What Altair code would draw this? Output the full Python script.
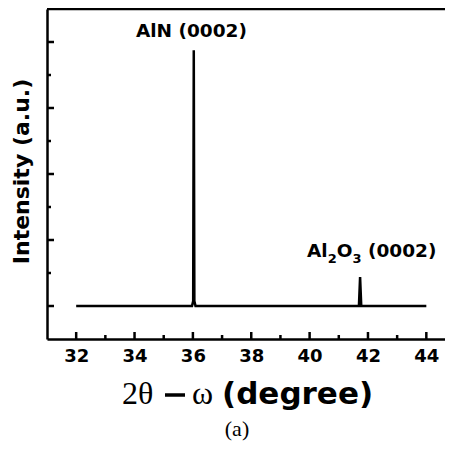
import altair as alt
import pandas as pd

# XRD scan (2theta-omega)
two_theta = [32.0, 35.97, 36.01, 36.03, 36.05, 36.09, 41.69, 41.73, 41.77, 44.0]
intensity = [0.0, 0.0, 0.15, 7.75, 0.15, 0.0, 0.0, 0.88, 0.0, 0.0]

x_major = [32, 34, 36, 38, 40, 42, 44]
x_minor = [33, 35, 37, 39, 41, 43]
y_major = [0, 2, 4, 6, 8]
y_minor = [1, 3, 5, 7]

aln_label = ["AlN (0002)"]
aln_pos = [35.95, 8.15]
sap_anchor = [39.91, 1.48]

W, H = 398, 330
SANS = "DejaVu Sans"
SERIF = "Liberation Serif"

xs = alt.Scale(domain=[31, 44.64], nice=False, zero=False)
ys = alt.Scale(domain=[-1, 9], nice=False, zero=False)

xaxis = alt.Axis(
    values=x_major, format="d", ticks=False, tickSize=0, grid=False,
    labelFont=SANS, labelFontWeight="bold", labelFontSize=18, labelColor="black",
    labelPadding=8, domainColor="black", domainWidth=2.5, title=None)
yaxis = alt.Axis(
    labels=False, ticks=False, tickSize=0, grid=False, domainColor="black", domainWidth=2.5,
    title="Intensity (a.u.)", titleFont=SANS, titleFontWeight="bold", titleFontSize=22,
    titleColor="black", titleX=-14, titleY=162)

df = pd.DataFrame({"t": two_theta, "i": intensity})
one = pd.DataFrame({"a": [0]})

line = alt.Chart(df).mark_line(color="black", strokeWidth=2.5, clip=True).encode(
    x=alt.X("t:Q", scale=xs, axis=xaxis),
    y=alt.Y("i:Q", scale=ys, axis=yaxis),
)

def xticks(vals, length):
    return alt.Chart(pd.DataFrame({"v": vals})).mark_rule(color="black", strokeWidth=2.5).encode(
        x=alt.X("v:Q", scale=xs, axis=xaxis), y=alt.value(H), y2=alt.value(H - length))

def yticks(vals, length):
    return alt.Chart(pd.DataFrame({"v": vals})).mark_rule(color="black", strokeWidth=2.5).encode(
        y=alt.Y("v:Q", scale=ys, axis=yaxis), x=alt.value(0), x2=alt.value(length))

top_border = alt.Chart(one).mark_rule(color="black", strokeWidth=2.5).encode(
    x=alt.value(0), x2=alt.value(W), y=alt.value(0))

aln = alt.Chart(pd.DataFrame({"x": [aln_pos[0]], "y": [aln_pos[1]], "s": aln_label})).mark_text(
    font=SANS, fontWeight="bold", fontSize=18.5, align="center", baseline="alphabetic", color="black"
).encode(x=alt.X("x:Q", scale=xs, axis=xaxis), y=alt.Y("y:Q", scale=ys, axis=yaxis), text="s:N")

sap_df = pd.DataFrame({"x": [sap_anchor[0]], "y": [sap_anchor[1]]})
def sap_piece(txt, dx, dy, size):
    return alt.Chart(sap_df).mark_text(
        font=SANS, fontWeight="bold", fontSize=size, align="left", baseline="alphabetic",
        color="black", dx=dx, dy=dy
    ).encode(x=alt.X("x:Q", scale=xs, axis=xaxis), y=alt.Y("y:Q", scale=ys, axis=yaxis),
             text=alt.value(txt))

sap = [
    sap_piece("Al", 0, 0, 18.5),
    sap_piece("2", 20.7, 6, 13),
    sap_piece("O", 29.7, 0, 18.5),
    sap_piece("3", 45.4, 6, 13),
    sap_piece("(0002)", 61, 0, 18.5),
]

def free_text(txt, x, y, font, size, weight="normal", align="left"):
    return alt.Chart(one).mark_text(
        font=font, fontSize=size, fontWeight=weight, align=align, baseline="alphabetic", color="black"
    ).encode(x=alt.value(x), y=alt.value(y), text=alt.value(txt))

dash = alt.Chart(one).mark_rule(color="black", strokeWidth=3.5).encode(
    x=alt.value(118), x2=alt.value(138), y=alt.value(386))

title_parts = [
    free_text("2θ", 75, 395, SERIF, 32),
    dash,
    free_text("ω", 145, 395, SERIF, 32),
    free_text("(degree)", 175, 395, SANS, 31, "bold"),
    free_text("(a)", 190, 427, SERIF, 22, align="center"),
]

chart = alt.layer(
    line, xticks(x_major, 7), xticks(x_minor, 4), yticks(y_major, 7), yticks(y_minor, 4),
    top_border, aln, *sap, *title_parts
).properties(
    width=W, height=H,
    autosize=alt.AutoSizeParams(type="none"),
    padding={"left": 39, "top": 1, "right": 0, "bottom": 102},
).configure_view(stroke=None).configure(background="white")

chart.save("out.html", embed_options={"renderer": "svg", "actions": False})
